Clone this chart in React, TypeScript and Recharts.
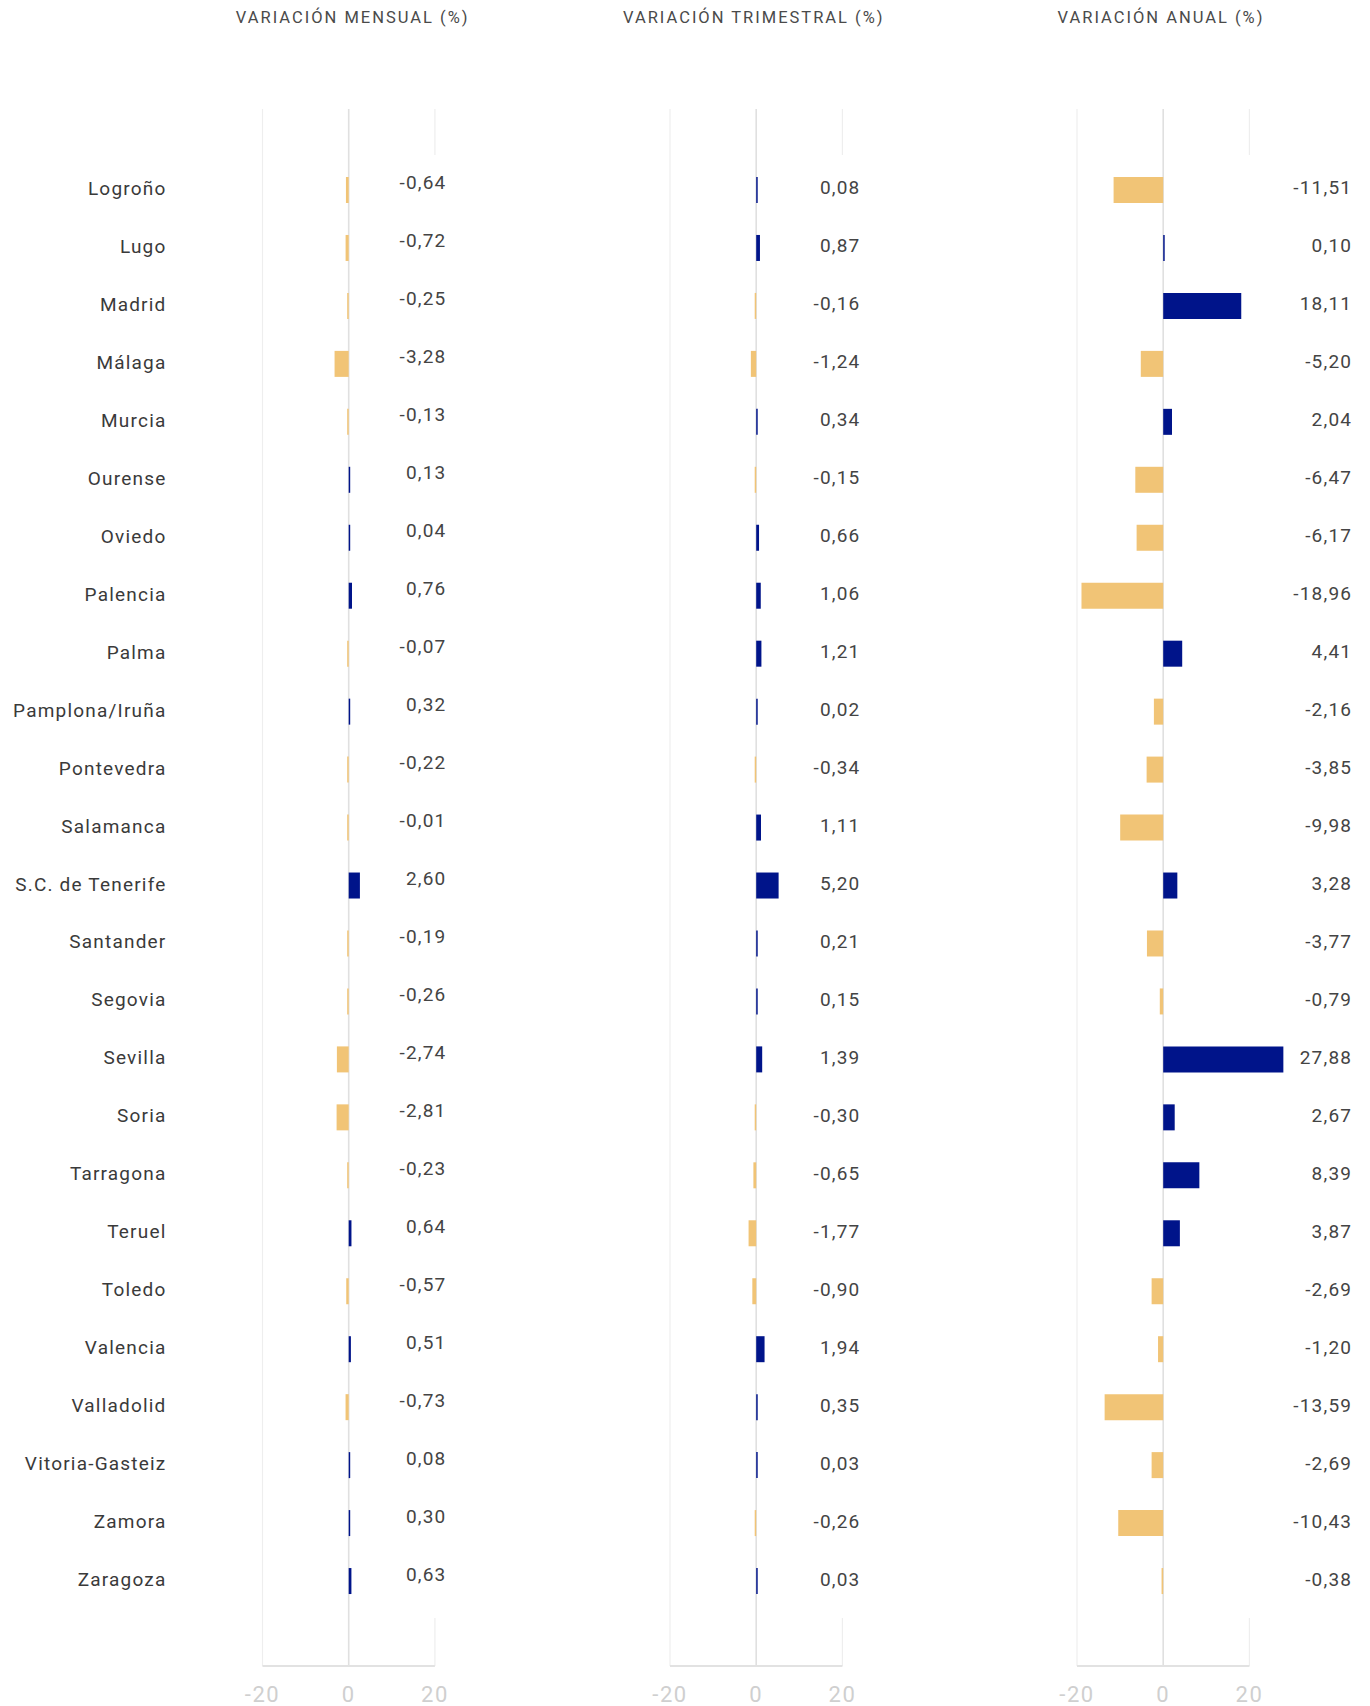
import React from "react";
import { BarChart, Bar, XAxis, YAxis, Cell, CartesianGrid } from "recharts";

const cities = [
  "Logroño",
  "Lugo",
  "Madrid",
  "Málaga",
  "Murcia",
  "Ourense",
  "Oviedo",
  "Palencia",
  "Palma",
  "Pamplona/Iruña",
  "Pontevedra",
  "Salamanca",
  "S.C. de Tenerife",
  "Santander",
  "Segovia",
  "Sevilla",
  "Soria",
  "Tarragona",
  "Teruel",
  "Toledo",
  "Valencia",
  "Valladolid",
  "Vitoria-Gasteiz",
  "Zamora",
  "Zaragoza",
];

const monthly = [
  -0.64, -0.72, -0.25, -3.28, -0.13, 0.13, 0.04, 0.76, -0.07, 0.32, -0.22, -0.01, 2.6, -0.19, -0.26,
  -2.74, -2.81, -0.23, 0.64, -0.57, 0.51, -0.73, 0.08, 0.3, 0.63,
];
const quarterly = [
  0.08, 0.87, -0.16, -1.24, 0.34, -0.15, 0.66, 1.06, 1.21, 0.02, -0.34, 1.11, 5.2, 0.21, 0.15, 1.39,
  -0.3, -0.65, -1.77, -0.9, 1.94, 0.35, 0.03, -0.26, 0.03,
];
const annual = [
  -11.51, 0.1, 18.11, -5.2, 2.04, -6.47, -6.17, -18.96, 4.41, -2.16, -3.85, -9.98, 3.28, -3.77, -0.79,
  27.88, 2.67, 8.39, 3.87, -2.69, -1.2, -13.59, -2.69, -10.43, -0.38,
];

const xTicks = [-20, 0, 20];
const xDomain: [number, number] = [-20, 30];
const titles = ["VARIACIÓN MENSUAL (%)", "VARIACIÓN TRIMESTRAL (%)", "VARIACIÓN ANUAL (%)"];

const NAVY = "#00148a";
const GOLD = "#f1c476";
const FONT = "Roboto, 'Open Sans', sans-serif";

// layout
const CHART_H = 1706;
const TOP = 109;
const X_AXIS_H = 40;
const PLOT_W = 215.5;
const NAMES_W = 262.5;
const PAD = { top: 52, bottom: 56 };

const fmt = (v: number) => v.toFixed(2).replace(".", ",");

type Row = { name: string; value: number };
const rows = (values: number[]): Row[] => cities.map((name, i) => ({ name, value: values[i] }));

// vertical gridlines at the ticks; the last one (20) is hidden behind the label column
const gridLine = (p: any) => {
  if (p.index >= xTicks.length) return <g key={p.key} />;
  const last = p.index === xTicks.length - 1;
  const isZero = p.index === xTicks.indexOf(0);
  const stroke = isZero ? "#e0e0e0" : "#eeeeee";
  const sw = isZero ? 1.6 : 1.2;
  const top = Math.min(p.y1, p.y2);
  const bottom = Math.max(p.y1, p.y2);
  if (last) {
    return (
      <g key={p.key}>
        <line x1={p.x1} x2={p.x1} y1={top} y2={top + 46} stroke={stroke} strokeWidth={sw} />
        <line x1={p.x1} x2={p.x1} y1={bottom - 48} y2={bottom} stroke={stroke} strokeWidth={sw} />
      </g>
    );
  }
  return <line key={p.key} x1={p.x1} x2={p.x2} y1={top} y2={bottom} stroke={stroke} strokeWidth={sw} />;
};

interface PanelProps {
  values: number[];
  title: string;
  left: number;
  zero: number;
  titleDx: number;
  width: number;
  marginLeft: number;
  showNames: boolean;
  labelDx: number;
  labelDy: number;
}

function Panel({ values, title, left, zero, titleDx, width, marginLeft, showNames, labelDx, labelDy }: PanelProps) {
  const data = rows(values);
  const pxPerUnit = PLOT_W / (xDomain[1] - xDomain[0]);

  const nameTick = (p: any) => (
    <text
      x={p.x - 96}
      y={p.y - 1.5}
      textAnchor="end"
      dominantBaseline="central"
      fill="#3a3a3a"
      fontSize={19}
      fontFamily={FONT}
      letterSpacing={1.2}
    >
      {p.payload.value}
    </text>
  );

  const valueTick = (p: any) => {
    const row = data.find((r) => r.name === p.payload.value);
    return (
      <text
        x={p.x + labelDx}
        y={p.y + labelDy}
        textAnchor="end"
        dominantBaseline="central"
        fill="#444"
        fontSize={19}
        fontFamily={FONT}
        letterSpacing={1.2}
      >
        {row ? fmt(row.value) : ""}
      </text>
    );
  };

  // tick label; the first tick also draws the short axis line (-20 to 20)
  const xTick = (p: any) => {
    const v = p.payload.value;
    return (
      <g>
        {v === xTicks[0] && (
          <line
            x1={p.x}
            x2={p.x + (xTicks[xTicks.length - 1] - xTicks[0]) * pxPerUnit}
            y1={p.y}
            y2={p.y}
            stroke="#e2e2e2"
            strokeWidth={1.8}
          />
        )}
        <text
          x={p.x}
          y={p.y + 36}
          textAnchor="middle"
          fill="#cfcfcf"
          fontSize={22}
          fontFamily={FONT}
          letterSpacing={1.5}
        >
          {v}
        </text>
      </g>
    );
  };

  return (
    <>
      <div
        style={{
          position: "absolute",
          left: zero - 200 + titleDx,
          top: 8,
          width: 400,
          textAlign: "center",
          fontFamily: FONT,
          fontSize: 16.5,
          lineHeight: "20px",
          letterSpacing: 2,
          color: "#4a4a4a",
        }}
      >
        {title}
      </div>
      <div style={{ position: "absolute", left, top: 0 }}>
        <BarChart
          width={width}
          height={CHART_H}
          data={data}
          layout="vertical"
          margin={{ top: TOP, right: 0, bottom: 0, left: marginLeft }}
        >
          <CartesianGrid yAxisId="cat" horizontal={false} vertical={gridLine} />
          <XAxis
            type="number"
            domain={xDomain}
            ticks={xTicks}
            interval={0}
            axisLine={false}
            tickLine={false}
            tickSize={0}
            tickMargin={0}
            height={X_AXIS_H}
            tick={xTick}
          />
          <YAxis
            yAxisId="cat"
            type="category"
            dataKey="name"
            width={NAMES_W}
            hide={!showNames}
            padding={PAD}
            interval={0}
            axisLine={false}
            tickLine={false}
            tickSize={0}
            tickMargin={0}
            tick={nameTick}
          />
          <YAxis
            yAxisId="val"
            orientation="right"
            type="category"
            dataKey="name"
            width={width - marginLeft - (showNames ? NAMES_W : 0) - PLOT_W}
            padding={PAD}
            interval={0}
            axisLine={false}
            tickLine={false}
            tickSize={0}
            tickMargin={0}
            tick={valueTick}
          />
          <Bar yAxisId="cat" dataKey="value" barSize={26} minPointSize={1.5} isAnimationActive={false}>
            {data.map((d) => (
              <Cell key={d.name} fill={d.value >= 0 ? NAVY : GOLD} />
            ))}
          </Bar>
        </BarChart>
      </div>
    </>
  );
}

export default function App() {
  return (
    <div
      style={{
        position: "absolute",
        left: 0,
        top: 0,
        width: 1370,
        height: 1706,
        overflow: "hidden",
        background: "#fff",
      }}
    >
      <Panel
        values={monthly}
        title={titles[0]}
        left={0}
        zero={348.7}
        titleDx={4}
        width={578}
        marginLeft={0}
        showNames
        labelDx={-31.5}
        labelDy={-7}
      />
      <Panel
        values={quarterly}
        title={titles[1]}
        left={649.6}
        zero={755.8}
        titleDx={-2}
        width={335.5}
        marginLeft={20}
        showNames={false}
        labelDx={-25}
        labelDy={-2}
      />
      <Panel
        values={annual}
        title={titles[2]}
        left={1056.8}
        zero={1163}
        titleDx={-2}
        width={313}
        marginLeft={20}
        showNames={false}
        labelDx={59.7}
        labelDy={-2}
      />
    </div>
  );
}
